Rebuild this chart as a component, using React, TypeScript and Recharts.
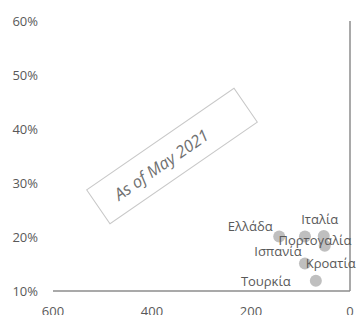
import { ScatterChart, Scatter, XAxis, YAxis, ReferenceLine, LabelList } from 'recharts'

const countries = ['Ελλάδα', 'Ιταλία', 'Πορτογαλία', 'Κροατία', 'Ισπανία', 'Τουρκία']
const xValues = [143, 53, 91, 51, 91, 69]
const yValues = [0.201, 0.202, 0.201, 0.184, 0.151, 0.119]
const xTicks = [0, 200, 400, 600]
const yTicks = [0.1, 0.2, 0.3, 0.4, 0.5, 0.6]
const note = 'As of May 2021'

// where each data label sits, relative to its point
const labelOffsets: Record<string, [number, number]> = {
  'Ελλάδα': [-29, -10],
  'Ιταλία': [-4, -17],
  'Πορτογαλία': [10, 4],
  'Κροατία': [6, 17],
  'Ισπανία': [-27, -12],
  'Τουρκία': [-50, 0],
}

const data = countries.map((name, i) => ({ name, x: xValues[i], y: yValues[i] }))

const font = '"Open Sans", sans-serif'
const textColor = '#595959'

const Dot = (props: any) => <circle cx={props.cx} cy={props.cy} r={6} fill='#bfbfbf' />

const PointLabel = (props: any) => {
  const { x, y, width, height, value } = props
  const [dx, dy] = labelOffsets[value] ?? [0, 0]
  const cx = x + (width ?? 0) / 2
  const cy = y + (height ?? 0) / 2
  return (
    <text
      x={cx + dx}
      y={cy + dy}
      textAnchor='middle'
      dominantBaseline='central'
      fill={textColor}
      fontSize={13}
      fontFamily={font}
    >
      {value}
    </text>
  )
}

export default function App() {
  return (
    <div style={{ position: 'absolute', left: 0, top: 0, width: 357, height: 315, background: '#fff' }}>
      <ScatterChart width={357} height={315} margin={{ top: 21, right: 7, left: 0, bottom: 0 }}>
        <XAxis
          type='number'
          dataKey='x'
          domain={[0, 600]}
          ticks={xTicks}
          reversed
          height={24}
          tickLine={false}
          tickSize={0}
          tickMargin={16}
          axisLine={{ stroke: '#8c8c8c', strokeWidth: 1.5 }}
          tick={{ fill: textColor, fontSize: 13, fontFamily: font }}
        />
        <YAxis
          type='number'
          dataKey='y'
          domain={[0.1, 0.6]}
          ticks={yTicks}
          width={53}
          axisLine={false}
          tickLine={false}
          tickSize={0}
          tickMargin={15}
          tickFormatter={(v: number) => `${Math.round(v * 100)}%`}
          tick={{ fill: textColor, fontSize: 13, fontFamily: font }}
        />
        <ReferenceLine x={0} stroke='#8c8c8c' strokeWidth={1.5} />
        <Scatter data={data} shape={<Dot />} isAnimationActive={false}>
          <LabelList dataKey='name' content={<PointLabel />} />
        </Scatter>
      </ScatterChart>
      <div
        style={{
          position: 'absolute',
          left: 171.5 - 90,
          top: 156 - 21,
          width: 180,
          height: 42,
          boxSizing: 'border-box',
          border: '1px solid #c8c8c8',
          transform: 'rotate(-34.6deg)',
          display: 'flex',
          alignItems: 'center',
          paddingLeft: 20,
          fontFamily: font,
          fontStyle: 'italic',
          fontSize: 16.5,
          color: '#707070',
          whiteSpace: 'nowrap',
        }}
      >
        {note}
      </div>
    </div>
  )
}
